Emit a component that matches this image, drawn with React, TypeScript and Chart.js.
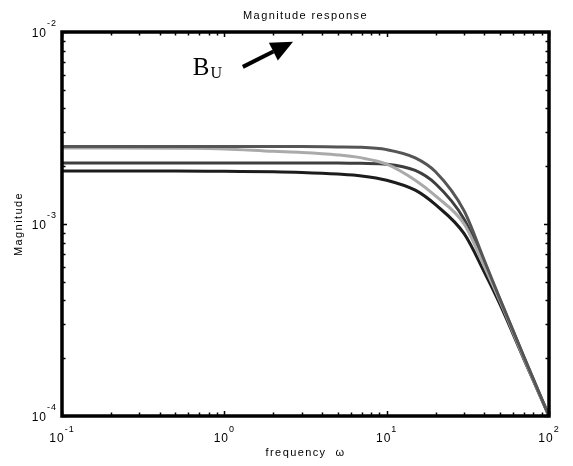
import React, { useEffect, useRef } from "react";
import { Chart, registerables } from "chart.js";

Chart.register(...registerables);

// frequency (rad/s) sample points
const frequency = [0.1, 0.2, 0.5, 1, 2, 3, 5, 7, 10, 15, 20, 30, 40, 50, 70, 100];
// four magnitude responses
const curveA = [2.53e-3, 2.53e-3, 2.53e-3, 2.53e-3, 2.53e-3, 2.53e-3, 2.52e-3, 2.51e-3, 2.44e-3, 2.21e-3, 1.87e-3, 1.17e-3, 6.45e-4, 4.05e-4, 2.04e-4, 1.0e-4];
const curveB = [2.49e-3, 2.49e-3, 2.48e-3, 2.46e-3, 2.39e-3, 2.36e-3, 2.29e-3, 2.21e-3, 2.05e-3, 1.69e-3, 1.4e-3, 1.0e-3, 6.0e-4, 3.95e-4, 2.0e-4, 1.0e-4];
const curveC = [2.08e-3, 2.08e-3, 2.08e-3, 2.08e-3, 2.08e-3, 2.08e-3, 2.08e-3, 2.07e-3, 2.05e-3, 1.9e-3, 1.62e-3, 1.06e-3, 6.2e-4, 4.02e-4, 2.03e-4, 1.0e-4];
const curveD = [1.89e-3, 1.89e-3, 1.89e-3, 1.88e-3, 1.87e-3, 1.855e-3, 1.82e-3, 1.78e-3, 1.69e-3, 1.5e-3, 1.26e-3, 8.9e-4, 5.6e-4, 3.8e-4, 1.98e-4, 1.0e-4];

const seriesColors = ["#555555", "#aaaaaa", "#3e3e3e", "#1c1c1c"];

// tick exponents (labels are 10^e)
const xTickExponents = [-1, 0, 1, 2];
const yTickExponents = [-4, -3, -2];

const titleText = "Magnitude response";
const xAxisText = "frequency  \u03c9";
const yAxisText = "Magnitude";

// annotation "B_U" with arrow, in data coordinates
const annotationLabel = { x: 0.64, y: 5.97e-3, main: "B", sub: "U" };
const arrowStart = { x: 1.3, y: 6.58e-3 };
const arrowEnd = { x: 2.65, y: 8.9e-3 };

const FONT = '"Liberation Sans", Arial, sans-serif';
const SERIF = '"Liberation Serif", "Times New Roman", serif';

const decorPlugin = {
  id: "decor",
  afterDraw(chart: any) {
    const ctx: CanvasRenderingContext2D = chart.ctx;
    const { left, right, top, bottom } = chart.chartArea;
    const xs = chart.scales.x;
    const ys = chart.scales.y;
    ctx.save();
    ctx.strokeStyle = "#000";
    ctx.fillStyle = "#000";

    // ticks
    ctx.lineWidth = 1.5;
    const xMinE = xTickExponents[0];
    const xMaxE = xTickExponents[xTickExponents.length - 1];
    for (let e = xMinE; e <= xMaxE; e++) {
      const mults = e === xMaxE ? [1] : [1, 2, 3, 4, 5, 6, 7, 8, 9];
      for (const m of mults) {
        const px = Math.round(xs.getPixelForValue(m * Math.pow(10, e))) + 0.5;
        const len = m === 1 ? 5 : 3.5;
        ctx.beginPath();
        ctx.moveTo(px, bottom);
        ctx.lineTo(px, bottom - len);
        ctx.moveTo(px, top);
        ctx.lineTo(px, top + len);
        ctx.stroke();
      }
    }
    const yMinE = yTickExponents[0];
    const yMaxE = yTickExponents[yTickExponents.length - 1];
    for (let e = yMinE; e <= yMaxE; e++) {
      const mults = e === yMaxE ? [1] : [1, 2, 3, 4, 5, 6, 7, 8, 9];
      for (const m of mults) {
        const py = Math.round(ys.getPixelForValue(m * Math.pow(10, e))) + 0.5;
        const len = m === 1 ? 5 : 3.5;
        ctx.beginPath();
        ctx.moveTo(left, py);
        ctx.lineTo(left + len, py);
        ctx.moveTo(right, py);
        ctx.lineTo(right - len, py);
        ctx.stroke();
      }
    }

    // frame
    ctx.lineWidth = 3.5;
    ctx.strokeRect(left, top, right - left, bottom - top);

    // tick labels
    const baseFont = "12px " + FONT;
    const expFont = "9px " + FONT;
    (ctx as any).letterSpacing = "1px";
    ctx.textBaseline = "alphabetic";
    ctx.textAlign = "left";
    for (const e of xTickExponents) {
      const px = xs.getPixelForValue(Math.pow(10, e));
      ctx.font = baseFont;
      const w10 = ctx.measureText("10").width;
      ctx.font = expFont;
      const we = ctx.measureText(String(e)).width;
      const x0 = px - (w10 + we) / 2;
      ctx.font = baseFont;
      ctx.fillText("10", x0, bottom + 26);
      ctx.font = expFont;
      ctx.fillText(String(e), x0 + w10, bottom + 16);
    }
    for (const e of yTickExponents) {
      const py = ys.getPixelForValue(Math.pow(10, e));
      ctx.font = expFont;
      const we = ctx.measureText(String(e)).width;
      ctx.font = baseFont;
      const w10 = ctx.measureText("10").width;
      const xEnd = left - 5;
      ctx.font = baseFont;
      ctx.fillText("10", xEnd - we - w10, py + 5);
      ctx.font = expFont;
      ctx.fillText(String(e), xEnd - we, py - 6);
    }

    // title & axis titles
    (ctx as any).letterSpacing = "1.4px";
    ctx.font = "11px " + FONT;
    ctx.textAlign = "center";
    const cx = (left + right) / 2;
    ctx.fillText(titleText, cx, top - 13);
    ctx.fillText(xAxisText, cx, bottom + 40);
    ctx.save();
    ctx.translate(22, (top + bottom) / 2);
    ctx.rotate(-Math.PI / 2);
    ctx.fillText(yAxisText, 0, 0);
    ctx.restore();
    (ctx as any).letterSpacing = "0px";

    // annotation
    ctx.textAlign = "left";
    const lx = xs.getPixelForValue(annotationLabel.x);
    const ly = ys.getPixelForValue(annotationLabel.y);
    ctx.font = "25px " + SERIF;
    ctx.fillText(annotationLabel.main, lx, ly);
    const wb = ctx.measureText(annotationLabel.main).width;
    ctx.font = "16px " + SERIF;
    ctx.fillText(annotationLabel.sub, lx + wb + 1, ly + 3);

    const ax0 = xs.getPixelForValue(arrowStart.x);
    const ay0 = ys.getPixelForValue(arrowStart.y);
    const ax1 = xs.getPixelForValue(arrowEnd.x);
    const ay1 = ys.getPixelForValue(arrowEnd.y);
    const ang = Math.atan2(ay1 - ay0, ax1 - ax0);
    const headLen = 22;
    const headHalf = 10;
    const bx = ax1 - headLen * Math.cos(ang);
    const by = ay1 - headLen * Math.sin(ang);
    ctx.lineWidth = 4;
    ctx.lineCap = "butt";
    ctx.beginPath();
    ctx.moveTo(ax0, ay0);
    ctx.lineTo(bx, by);
    ctx.stroke();
    ctx.beginPath();
    ctx.moveTo(ax1, ay1);
    ctx.lineTo(bx + headHalf * Math.sin(ang), by - headHalf * Math.cos(ang));
    ctx.lineTo(bx - headHalf * Math.sin(ang), by + headHalf * Math.cos(ang));
    ctx.closePath();
    ctx.fill();

    ctx.restore();
  },
};

export default function App() {
  const canvasRef = useRef<HTMLCanvasElement | null>(null);

  useEffect(() => {
    const canvas = canvasRef.current;
    if (!canvas) return;
    const series = [curveA, curveB, curveC, curveD];
    const chart = new Chart(canvas, {
      type: "line",
      data: {
        datasets: series.map((vals, i) => ({
          label: "curve " + (i + 1),
          data: frequency.map((f, j) => ({ x: f, y: vals[j] })),
          borderColor: seriesColors[i],
          borderWidth: 3,
          pointRadius: 0,
          fill: false,
          cubicInterpolationMode: "monotone" as const,
        })),
      },
      options: {
        responsive: false,
        animation: false,
        events: [],
        layout: { padding: { left: 62, right: 24, top: 32, bottom: 50 } },
        plugins: {
          legend: { display: false },
          tooltip: { enabled: false },
          title: { display: false },
        },
        scales: {
          x: {
            type: "logarithmic",
            min: Math.pow(10, xTickExponents[0]),
            max: Math.pow(10, xTickExponents[xTickExponents.length - 1]),
            display: false,
          },
          y: {
            type: "logarithmic",
            min: Math.pow(10, yTickExponents[0]),
            max: Math.pow(10, yTickExponents[yTickExponents.length - 1]),
            display: false,
          },
        },
      },
      plugins: [decorPlugin],
    });
    return () => chart.destroy();
  }, []);

  return (
    <div style={{ position: "absolute", left: 0, top: 0, width: 573, height: 466, background: "#fff" }}>
      <canvas ref={canvasRef} width={573} height={466} style={{ display: "block" }} />
    </div>
  );
}
